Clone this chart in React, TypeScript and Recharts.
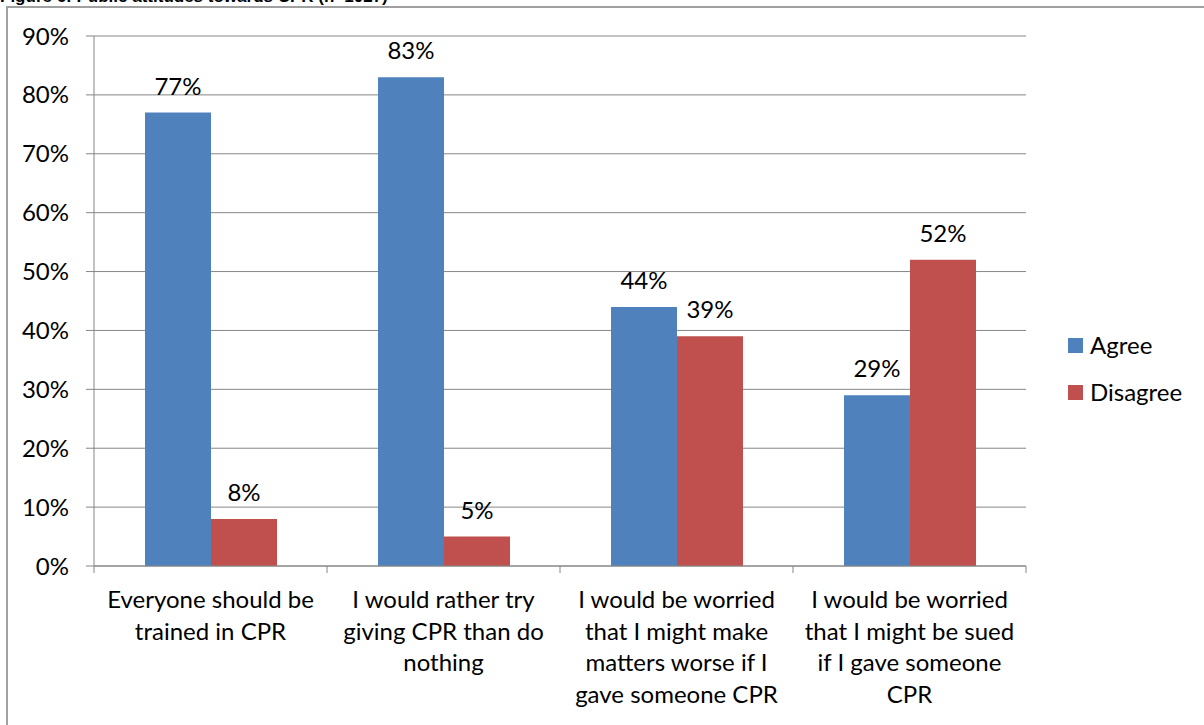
import React from 'react';
import { Bar, BarChart, CartesianGrid, LabelList, XAxis, YAxis } from 'recharts';

const categories = [
  'Everyone should be trained in CPR',
  'I would rather try giving CPR than do nothing',
  'I would be worried that I might make matters worse if I gave someone CPR',
  'I would be worried that I might be sued if I gave someone CPR',
];

// how each category label wraps under the axis
const labelLines = [
  ['Everyone should be', 'trained in CPR'],
  ['I would rather try', 'giving CPR than do', 'nothing'],
  ['I would be worried', 'that I might make', 'matters worse if I', 'gave someone CPR'],
  ['I would be worried', 'that I might be sued', 'if I gave someone', 'CPR'],
];

const agree = [77, 83, 44, 29];
const disagree = [8, 5, 39, 52];
const yTicks = [0, 10, 20, 30, 40, 50, 60, 70, 80, 90];
const seriesNames = ['Agree', 'Disagree'];
const title = 'Figure 6: Public attitudes towards CPR (n=1027)';

const W = 1204;
const H = 725;
const LEFT = 94;
const RIGHT = 178;
const BAND = (W - LEFT - RIGHT) / categories.length;
const GRID = '#868686';
const COLORS = ['#4F81BD', '#C0504D'];
const FS = 24;

const data = categories.map((name, i) => ({
  name,
  agree: agree[i],
  disagree: disagree[i],
}));

function CategoryTick(props: any) {
  const { x, y, payload } = props;
  const i = categories.indexOf(payload.value);
  const lines = labelLines[i] || [payload.value];
  return (
    <g>
      <line x1={x - BAND / 2} x2={x - BAND / 2} y1={y} y2={y + 7} stroke={GRID} />
      {i === categories.length - 1 && (
        <line x1={x + BAND / 2} x2={x + BAND / 2} y1={y} y2={y + 7} stroke={GRID} />
      )}
      <text textAnchor='middle' fontSize={FS} fill='#000'>
        {lines.map((l, k) => (
          <tspan key={k} x={x} y={y + 42 + k * 31.7}>
            {l}
          </tspan>
        ))}
      </text>
    </g>
  );
}

export default function App() {
  return (
    <div
      style={{
        position: 'absolute',
        left: 0,
        top: 0,
        width: W,
        height: H,
        overflow: 'hidden',
        background: '#fff',
        fontFamily: 'Lato, Carlito, sans-serif',
      }}
    >
      <div
        style={{
          position: 'absolute',
          left: 0,
          top: -13,
          fontFamily: 'Arial, "Liberation Sans", sans-serif',
          fontWeight: 'bold',
          fontSize: 17,
          whiteSpace: 'nowrap',
        }}
      >
        {title}
      </div>
      <div
        style={{
          position: 'absolute',
          left: 6,
          top: 6,
          width: W + 20,
          height: H + 20,
          border: '2px solid #a0a0a0',
        }}
      />
      <div style={{ position: 'absolute', left: 0, top: 0 }}>
        <BarChart
          width={W}
          height={H}
          data={data}
          margin={{ top: 36, right: RIGHT, bottom: 129, left: 0 }}
          barGap={0}
        >
          <CartesianGrid vertical={false} stroke={GRID} />
          <XAxis
            dataKey='name'
            height={30}
            interval={0}
            tickLine={false}
            tickSize={0}
            tickMargin={0}
            axisLine={{ stroke: GRID }}
            tick={<CategoryTick />}
          />
          <YAxis
            width={LEFT}
            domain={[0, 90]}
            ticks={yTicks}
            interval={0}
            tickFormatter={(v: number) => `${v}%`}
            tickSize={8}
            tickMargin={17}
            axisLine={{ stroke: GRID }}
            tickLine={{ stroke: GRID }}
            tick={{ fontSize: FS, fill: '#000' }}
          />
          <Bar dataKey='agree' name={seriesNames[0]} fill={COLORS[0]} barSize={66} isAnimationActive={false}>
            <LabelList
              dataKey='agree'
              position='top'
              offset={18}
              fontSize={FS}
              fill='#000'
              formatter={(v: any) => `${v}%`}
            />
          </Bar>
          <Bar dataKey='disagree' name={seriesNames[1]} fill={COLORS[1]} barSize={66} isAnimationActive={false}>
            <LabelList
              dataKey='disagree'
              position='top'
              offset={18}
              fontSize={FS}
              fill='#000'
              formatter={(v: any) => `${v}%`}
            />
          </Bar>
        </BarChart>
      </div>
      <div style={{ position: 'absolute', left: 1068, top: 330, fontSize: FS, lineHeight: '30px' }}>
        {seriesNames.map((n, i) => (
          <div key={n} style={{ display: 'flex', alignItems: 'center', marginBottom: i === 0 ? 17 : 0 }}>
            <span
              style={{ display: 'inline-block', width: 15, height: 15, background: COLORS[i], marginRight: 7 }}
            />
            <span>{n}</span>
          </div>
        ))}
      </div>
    </div>
  );
}
